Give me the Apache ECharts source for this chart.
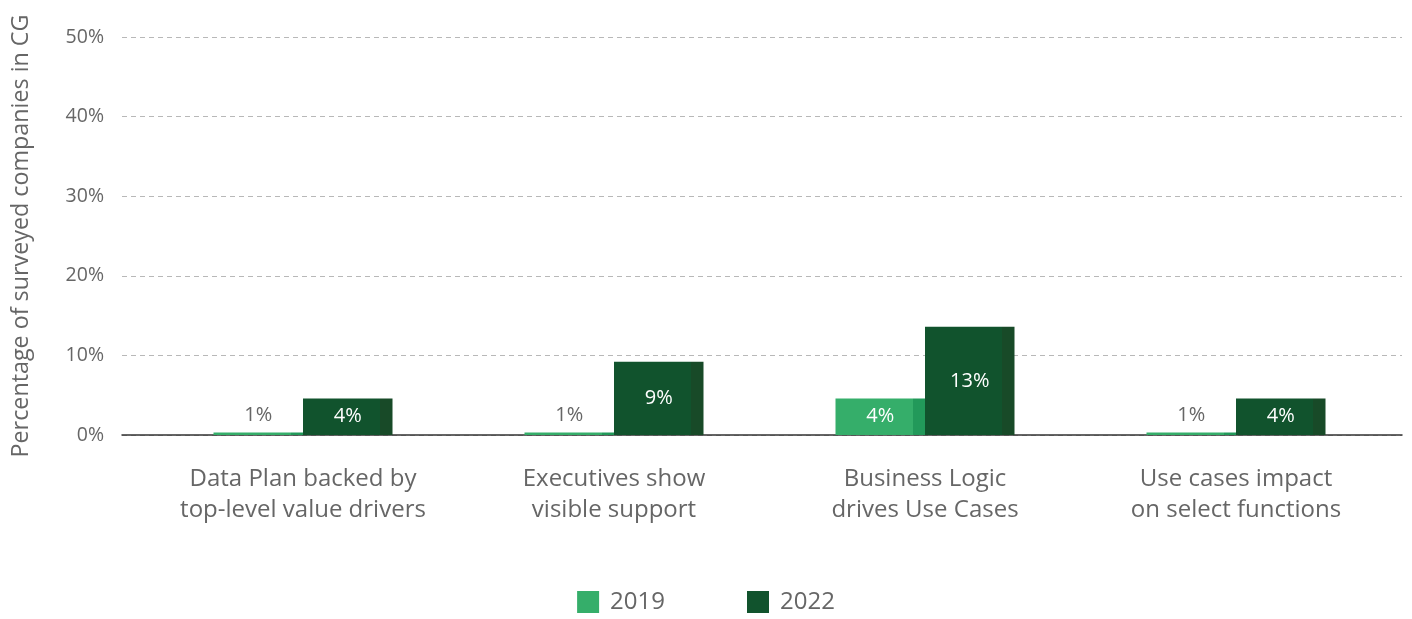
<!DOCTYPE html>
<html>
<head>
<meta charset="utf-8">
<script src="https://cdn.jsdelivr.net/npm/echarts@6/dist/echarts.min.js"></script>
<style>
html,body{margin:0;padding:0;background:#fff;}
#chart{width:1412px;height:619px;}
</style>
</head>
<body>
<div id="chart"></div>
<script>
const categories = [
  "Data Plan backed by\ntop-level value drivers",
  "Executives show\nvisible support",
  "Business Logic\ndrives Use Cases",
  "Use cases impact\non select functions"
];
const seriesNames = ["2019", "2022"];
const values2019 = [0.3, 0.3, 4.6, 0.3];
const values2022 = [4.6, 9.2, 13.6, 4.6];
const labels2019 = ["1%", "1%", "4%", "1%"];
const labels2022 = ["4%", "9%", "13%", "4%"];
const yTicks = [0, 10, 20, 30, 40, 50];

const FONT = "'Open Sans', 'Noto Sans', sans-serif";
const colors = {
  "2019": ["#35AE6A", "#22995A"],
  "2022": ["#11532D", "#184A28"]
};
function shaded(pair) {
  return {
    type: 'linear', x: 0, y: 0, x2: 1, y2: 0,
    colorStops: [
      {offset: 0, color: pair[0]},
      {offset: 0.865, color: pair[0]},
      {offset: 0.865, color: pair[1]},
      {offset: 1, color: pair[1]}
    ]
  };
}
function buildData(vals, labels) {
  return vals.map((v, i) => {
    const small = v < 1;
    return {
      value: v,
      label: {
        show: true,
        formatter: labels[i],
        position: small ? 'top' : 'inside',
        distance: 7,
        color: small ? '#666666' : '#ffffff',
        fontSize: 20,
        fontFamily: FONT
      }
    };
  });
}

const chart = echarts.init(document.getElementById('chart'), null, {renderer: 'canvas'});
chart.setOption({
  animation: false,
  backgroundColor: '#ffffff',
  textStyle: {fontFamily: FONT},
  grid: [
    {left: 122, right: 10, top: 37, bottom: 184, outerBoundsMode: 'none', containLabel: false},
    {left: 147.5, right: 20.5, top: 37, bottom: 184, outerBoundsMode: 'none', containLabel: false}
  ],
  legend: {
    data: [
      {name: '2019', itemStyle: {color: colors["2019"][0]}},
      {name: '2022', itemStyle: {color: colors["2022"][0]}}
    ],
    bottom: 0,
    left: 'center',
    itemWidth: 22,
    itemHeight: 22,
    itemGap: 82,
    icon: 'rect',
    textStyle: {fontSize: 24, color: '#666666', fontFamily: FONT, padding: [0, 0, 0, 6]}
  },
  xAxis: [
    {
      type: 'category', gridIndex: 0, data: categories,
      axisLine: {show: true, lineStyle: {color: '#333333', width: 1.5}},
      axisTick: {show: false}, axisLabel: {show: false}, splitLine: {show: false}
    },
    {
      type: 'category', gridIndex: 1, data: categories,
      axisLine: {show: false}, axisTick: {show: false},
      axisLabel: {
        show: true, interval: 0, margin: 29,
        fontSize: 24, color: '#666666', lineHeight: 31, fontFamily: FONT
      }
    }
  ],
  yAxis: [
    {
      type: 'value', gridIndex: 0, min: 0, max: 50, interval: 10,
      name: 'Percentage of surveyed companies in CG',
      nameLocation: 'middle', nameGap: 89,
      nameTextStyle: {fontSize: 23.3, color: '#666666', fontFamily: FONT},
      axisLine: {show: false}, axisTick: {show: false},
      axisLabel: {formatter: '{value}%', fontSize: 19.5, color: '#666666', margin: 18, fontFamily: FONT},
      splitLine: {show: true, lineStyle: {type: [5, 4], color: '#b8b8b8', width: 1}}
    },
    {
      type: 'value', gridIndex: 1, min: 0, max: 50, interval: 10,
      axisLine: {show: false}, axisTick: {show: false},
      axisLabel: {show: false}, splitLine: {show: false}
    }
  ],
  series: [
    {
      name: seriesNames[0], type: 'bar', xAxisIndex: 1, yAxisIndex: 1,
      barWidth: 89.5, barGap: '0%',
      itemStyle: {color: shaded(colors["2019"])},
      data: buildData(values2019, labels2019)
    },
    {
      name: seriesNames[1], type: 'bar', xAxisIndex: 1, yAxisIndex: 1,
      barWidth: 89.5, barGap: '0%',
      itemStyle: {color: shaded(colors["2022"])},
      data: buildData(values2022, labels2022)
    }
  ]
});
</script>
</body>
</html>
